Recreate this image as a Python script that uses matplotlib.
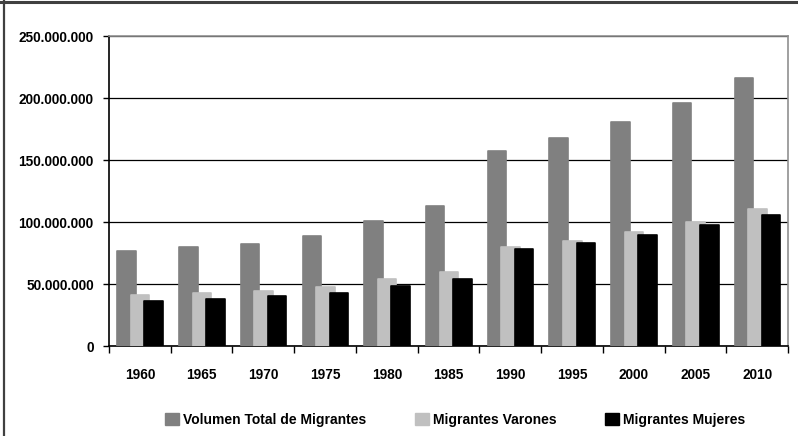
import matplotlib
matplotlib.use("Agg")
import matplotlib.pyplot as plt
from matplotlib.lines import Line2D
from matplotlib.patches import Patch
from matplotlib.ticker import FuncFormatter, FixedLocator
import numpy as np

years = ["1960", "1965", "1970", "1975", "1980", "1985", "1990", "1995", "2000", "2005", "2010"]
total = [77.0e6, 79.6e6, 82.6e6, 88.5e6, 101.2e6, 112.6e6, 157.6e6, 168.0e6, 180.4e6, 196.3e6, 216.2e6]
varones = [41.5e6, 42.6e6, 44.0e6, 47.2e6, 54.2e6, 59.6e6, 80.1e6, 84.9e6, 91.9e6, 99.7e6, 110.2e6]
mujeres = [36.6e6, 37.8e6, 40.2e6, 42.6e6, 48.3e6, 54.0e6, 78.0e6, 82.8e6, 89.8e6, 97.8e6, 105.9e6]
series_names = ["Volumen Total de Migrantes", "Migrantes Varones", "Migrantes Mujeres"]
colors = ["#808080", "#c0c0c0", "#000000"]

plt.rcParams['font.family'] = ['Liberation Sans', 'DejaVu Sans']

fig = plt.figure(figsize=(7.98, 4.36), dpi=100)
ax = fig.add_axes([109/798, 1-346/436, (788-109)/798, (346-36)/436])

x = np.arange(len(years))
offsets = [-0.215, 0.005, 0.225]
width = 0.30
for vals, off, c in zip([total, varones, mujeres], offsets, colors):
    ax.bar(x + off, vals, width=width, color=c, edgecolor=c, linewidth=1.2,
           joinstyle='round', zorder=3)

ax.set_xlim(-0.5, len(years) - 0.5)
ax.set_ylim(0, 250e6)
ax.yaxis.set_major_locator(FixedLocator([0, 50e6, 100e6, 150e6, 200e6, 250e6]))
ax.yaxis.set_major_formatter(FuncFormatter(lambda v, p: f"{int(v):,}".replace(",", ".")))
ax.grid(axis='y', color='black', linewidth=0.9, zorder=0)

ax.set_xticks(x)
ax.set_xticklabels(years)
ax.set_xticks(np.arange(-0.5, len(years)), minor=True)
ax.tick_params(axis='x', which='major', length=0, pad=16)
ax.tick_params(axis='x', which='minor', length=5, width=1, color='black', direction='out')
ax.tick_params(axis='y', length=4, width=1, color='black', direction='out', pad=7)
for lab in ax.get_xticklabels() + ax.get_yticklabels():
    lab.set_fontweight('bold')
    lab.set_fontsize(9.8)

ax.spines['left'].set_color('black')
ax.spines['bottom'].set_color('black')
ax.spines['left'].set_linewidth(1.2)
ax.spines['bottom'].set_linewidth(1.2)
ax.spines['top'].set_color('#909090')
ax.spines['right'].set_color('#909090')
ax.spines['top'].set_linewidth(1.2)
ax.spines['right'].set_linewidth(1.2)

handles = [Patch(facecolor=c, edgecolor=c) for c in colors]
leg = fig.legend(handles, series_names, loc='center', bbox_to_anchor=(0.5705, 1-420/436),
                 ncol=3, frameon=False, handlelength=1.0, handleheight=1.0,
                 handletextpad=0.3, columnspacing=3.5,
                 prop={'weight': 'bold', 'size': 10})

fig.add_artist(Line2D([0, 1], [1-2.5/436, 1-2.5/436], transform=fig.transFigure,
                      color='#404040', linewidth=2.2))
fig.add_artist(Line2D([3.5/798, 3.5/798], [0, 1], transform=fig.transFigure,
                      color='#404040', linewidth=1.6))

fig.savefig("out.png", dpi=100)
